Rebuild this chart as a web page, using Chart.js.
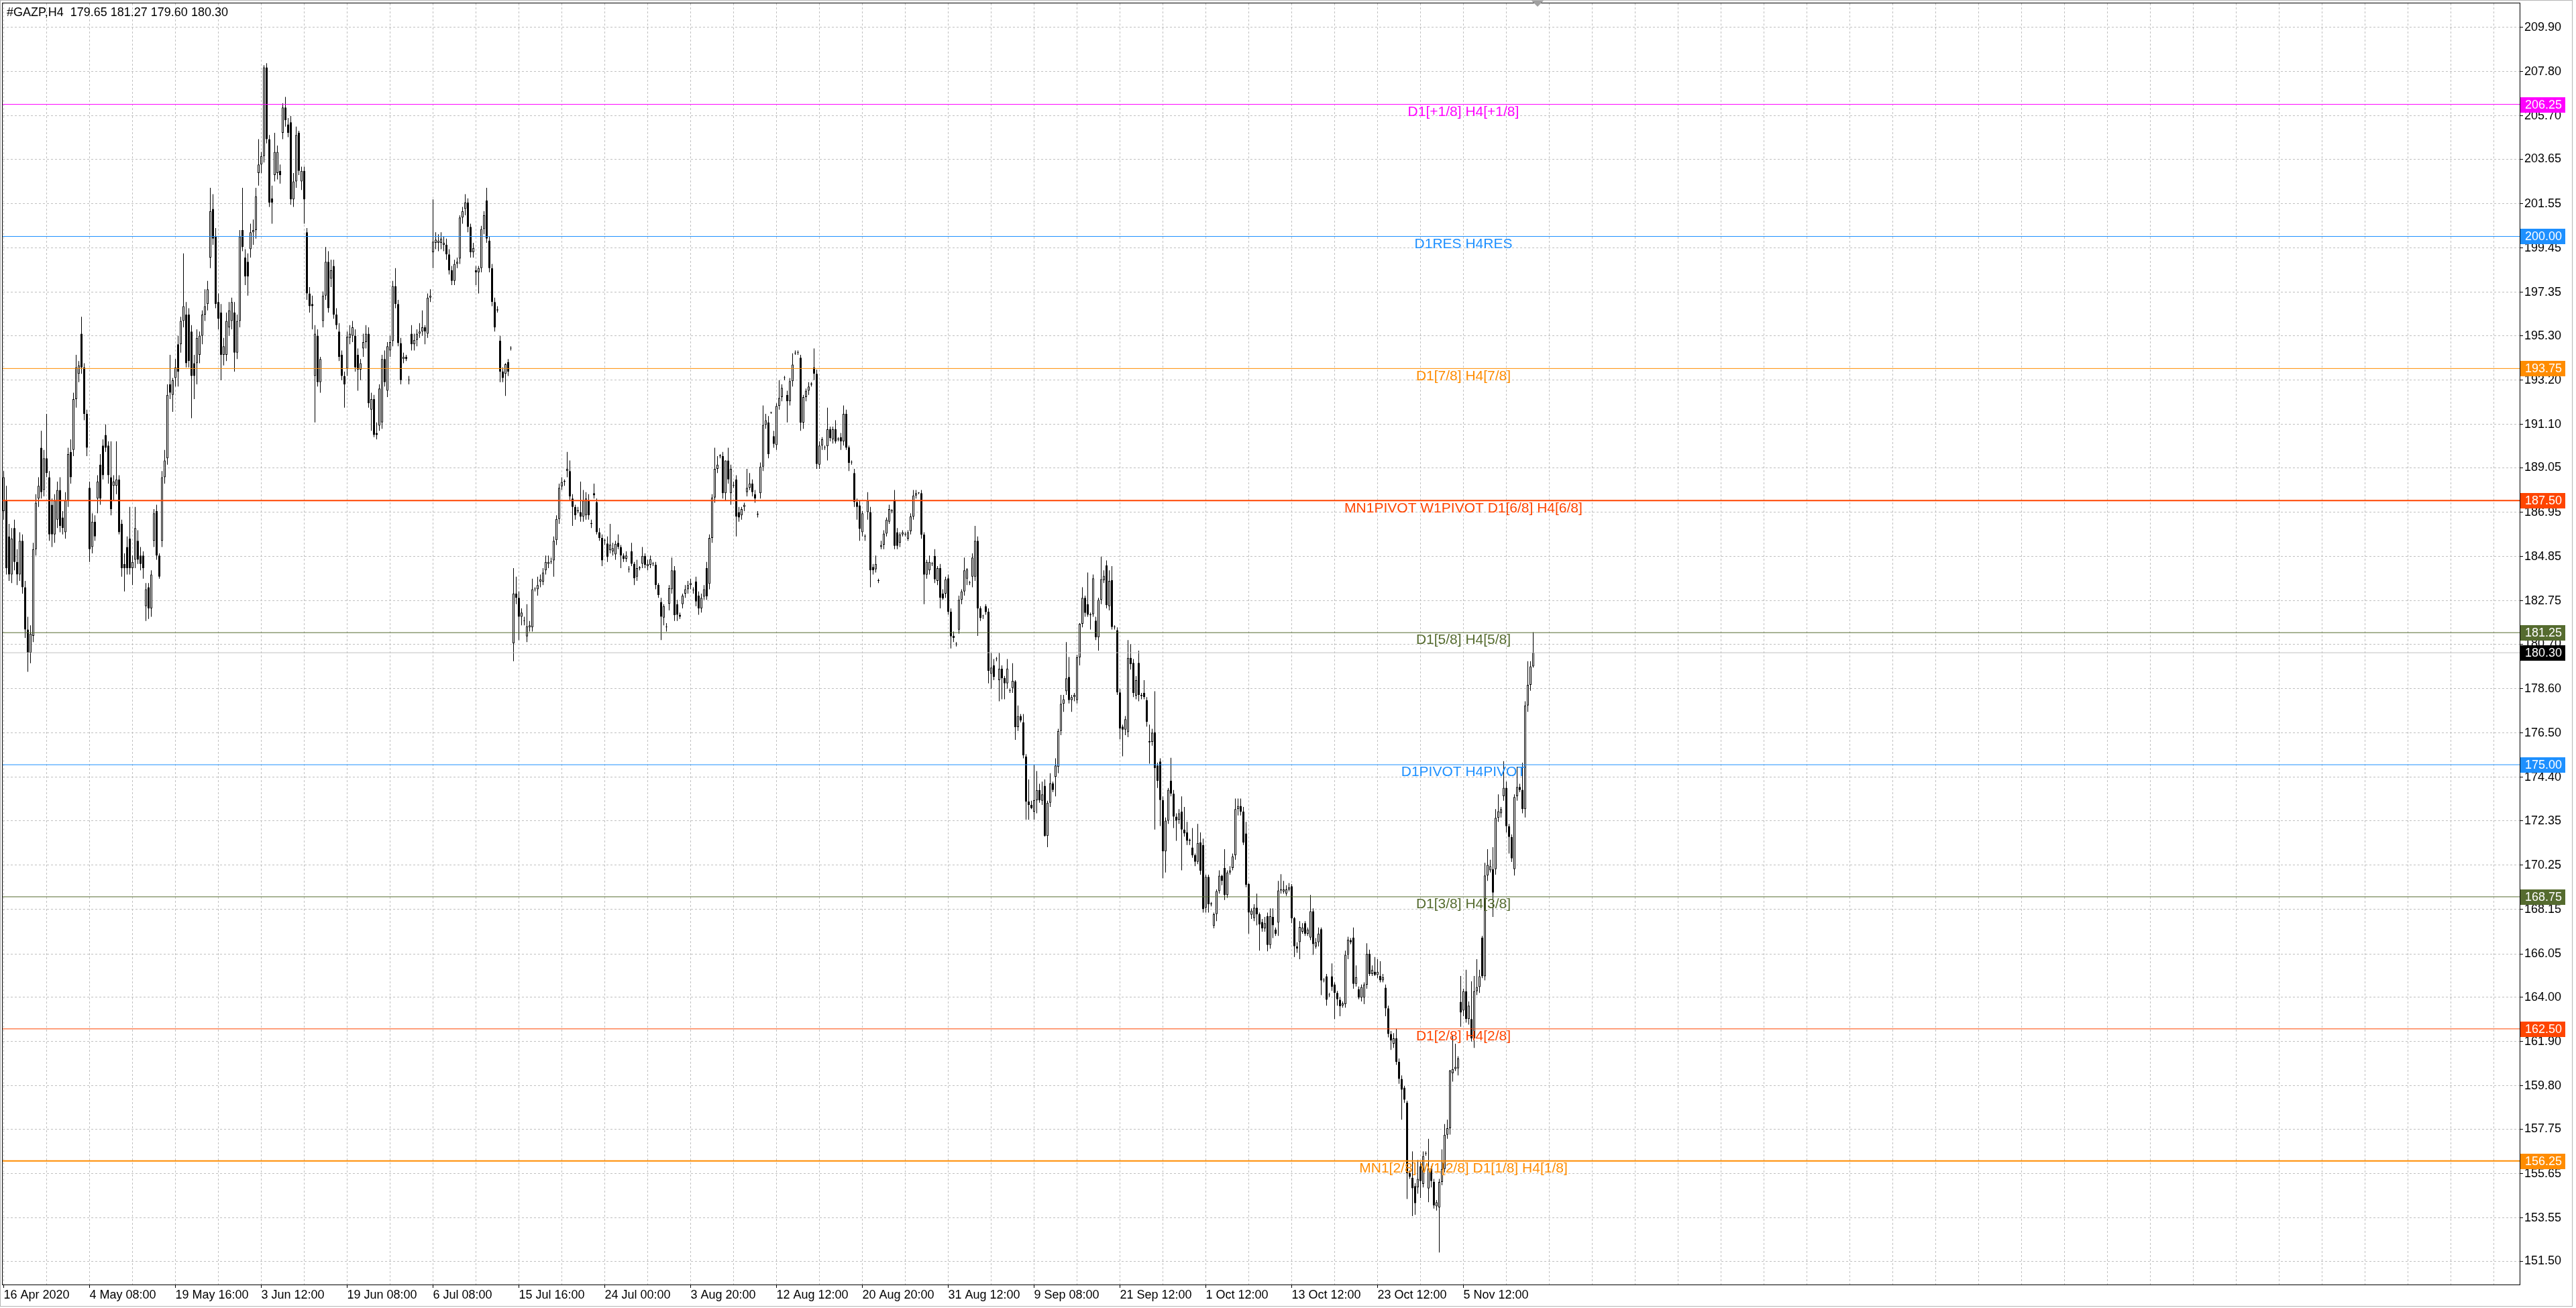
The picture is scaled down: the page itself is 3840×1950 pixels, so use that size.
<!DOCTYPE html>
<html>
<head>
<meta charset="utf-8">
<script src="https://cdn.jsdelivr.net/npm/chart.js@4.4.1/dist/chart.umd.min.js"></script>
<style>
html,body{margin:0;padding:0;background:#ffffff;overflow:hidden;}
canvas{display:block;}
</style>
</head>
<body>
<canvas id="c" width="3840" height="1950" style="width:3840px;height:1950px"></canvas>
<script>
// ---------------- DATA ----------------
const symbolName = '#GAZP';
const timeframe = 'H4';

const timeLabels = ['16 Apr 2020','4 May 08:00','19 May 16:00','3 Jun 12:00','19 Jun 08:00','6 Jul 08:00',
  '15 Jul 16:00','24 Jul 00:00','3 Aug 20:00','12 Aug 12:00','20 Aug 20:00','31 Aug 12:00','9 Sep 08:00',
  '21 Sep 12:00','1 Oct 12:00','13 Oct 12:00','23 Oct 12:00','5 Nov 12:00'];

const yTickValues = [151.50,153.55,155.65,157.75,159.80,161.90,164.00,166.05,168.15,170.25,172.35,174.40,
  176.50,178.60,180.70,182.75,184.85,186.95,189.05,191.10,193.20,195.30,197.35,199.45,201.55,203.65,205.70,207.80,209.90];

const levelValues = [206.25, 200.00, 193.75, 187.50, 181.25, 175.00, 168.75, 162.50, 156.25];
const levelNames = ['D1[+1/8] H4[+1/8]','D1RES H4RES','D1[7/8] H4[7/8]','MN1PIVOT W1PIVOT D1[6/8] H4[6/8]',
  'D1[5/8] H4[5/8]','D1PIVOT H4PIVOT','D1[3/8] H4[3/8]','D1[2/8] H4[2/8]','MN1[2/8] W1[2/8] D1[1/8] H4[1/8]'];

const opens = [
187.0,187.5,185.8,184.0,186.2,184.6,184.0,185.6,183.4,181.4,
180.3,181.1,185.2,187.6,190.0,188.0,189.5,188.6,187.3,185.9,
186.6,188.0,186.7,186.0,187.5,189.8,189.9,192.3,193.5,195.4,
193.8,191.6,188.1,185.3,186.5,187.6,189.2,190.1,190.6,190.1,
188.6,188.2,188.2,188.5,186.4,184.5,185.3,185.7,184.3,184.7,
185.6,184.9,184.9,182.5,183.4,182.4,185.6,187.0,184.9,185.6,
188.6,189.5,193.0,192.5,193.3,194.9,194.9,196.0,196.3,196.3,
195.5,194.0,194.0,194.4,195.3,196.3,196.8,199.0,201.3,200.0,
196.9,196.4,194.4,194.4,195.7,196.0,196.4,194.5,196.0,200.3,
199.0,198.8,199.4,200.2,200.3,203.0,203.4,203.8,208.0,204.6,
201.8,202.9,203.0,203.1,204.9,206.1,205.3,205.4,201.75,202.6,
204.9,202.6,203.1,200.2,197.3,196.8,193.4,195.3,193.1,196.0,
197.2,198.8,198.0,198.6,196.3,195.5,194.4,193.4,193.75,195.2,
195.3,195.3,194.4,193.7,194.7,195.0,195.4,191.8,192.3,190.7,
191.05,191.2,194.2,192.7,194.6,195.05,197.65,196.8,194.95,194.2,
194.3,193.2,195.4,194.9,195.1,195.4,195.5,195.7,195.4,197.1,
199.25,199.7,199.7,199.7,199.6,199.6,199.15,198.4,197.9,198.7,
198.95,200.9,201.3,201.6,200.45,199.25,198.4,198.3,198.5,200.35,
201.7,199.8,198.5,196.9,196.5,195.06,193.6,193.5,194.05,194.7,
180.75,183.1,182.9,182.0,181.8,181.07,181.5,181.5,183.3,183.3,
183.66,183.67,184.2,184.5,184.6,184.67,185.63,186.63,188.17,188.4,
188.9,188.9,187.6,187.2,187.0,186.95,186.74,186.8,187.5,186.4,
187.85,187.43,186.0,185.73,185.6,185.47,185.15,185.1,184.95,185.5,
185.3,184.9,184.75,184.25,185.1,184.51,183.9,184.3,184.51,184.88,
184.4,184.46,184.5,184.46,183.51,182.7,181.96,181.5,182.61,183.3,
184.2,182.6,182.1,182.6,183.1,183.3,183.5,183.25,183.67,183.0,
182.4,182.95,184.3,183.56,185.73,187.64,189.0,189.6,189.6,187.85,
189.4,187.85,188.2,188.5,186.95,186.8,187.2,187.9,188.1,188.3,
187.8,186.84,187.85,189.1,191.08,191.2,191.66,190.55,190.13,191.98,
192.4,193.3,192.5,192.2,193.15,194.47,194.5,194.26,191.19,192.4,
192.7,193.0,193.8,193.5,189.2,190.1,190.0,190.07,190.87,190.4,
190.87,190.4,190.5,190.3,191.6,190.02,189.3,188.8,187.43,187.27,
186.0,185.8,186.95,186.95,184.36,184.25,183.7,185.3,185.41,185.94,
186.5,187.0,187.53,186.0,185.5,185.9,185.9,185.7,186.05,186.74,
187.74,187.85,187.85,185.89,183.99,184.2,184.5,184.88,183.7,184.3,
183.1,183.1,183.82,182.24,181.1,180.7,181.39,182.8,183.2,183.8,
183.6,183.9,183.9,185.6,182.4,182.03,182.49,182.24,179.3,179.7,
180.0,179.0,179.54,179.1,178.85,178.5,178.63,178.94,176.78,177.3,
177.0,175.39,173.26,173.1,172.78,173.32,173.8,173.3,174.0,171.63,
173.2,174.11,174.42,174.9,176.6,177.88,178.48,179.15,178.06,178.2,
178.06,180.08,181.67,182.9,182.6,182.1,182.12,181.82,181.03,182.8,
183.73,184.43,182.5,183.73,181.5,181.37,178.42,176.8,176.66,176.54,
180.06,179.82,178.27,179.82,178.25,178.4,178.06,176.06,176.08,176.54,
174.96,175.15,173.33,170.9,172.35,174.24,173.63,172.54,172.4,172.78,
171.93,171.8,171.4,171.08,170.72,170.41,171.32,171.2,168.23,169.69,
168.4,167.38,167.93,169.02,169.75,170.11,168.84,169.9,170.11,170.72,
172.9,173.05,172.78,171.75,169.36,167.9,167.74,168.23,167.92,167.56,
167.26,167.83,166.47,167.8,167.2,167.53,169.05,169.0,168.9,169.1,
169.25,167.73,166.4,166.61,167.1,167.5,167.0,166.82,168.07,166.4,
166.6,167.22,164.8,164.99,164.1,164.99,164.6,164.2,163.88,163.6,
163.67,166.0,166.7,166.82,164.63,164.38,163.98,163.98,164.59,166.05,
165.1,165.2,165.05,165.0,164.8,164.45,163.47,162.26,161.8,162.05,
160.94,160.13,159.72,159.01,155.67,155.46,155.06,155.0,156.0,155.16,
156.6,154.95,155.9,155.26,154.1,154.05,155.26,155.87,157.49,157.8,
160.4,160.6,160.63,163.78,163.37,164.28,162.96,162.96,162.05,164.28,
164.48,166.82,164.99,169.76,170.0,170.06,170.06,172.49,172.7,173.51,
173.91,172.09,171.58,170.06,173.51,173.95,173.81,172.9,177.8,178.78,
179.65];

const highs = [
188.9,188.2,186.4,186.2,186.6,185.2,186.0,185.9,183.7,182.0,
181.6,185.5,187.8,188.6,190.8,189.9,191.6,188.9,187.6,187.8,
188.4,188.6,187.0,187.9,190.0,190.4,192.6,194.4,194.1,196.2,
194.0,191.8,188.4,186.9,186.8,188.7,189.7,190.4,191.1,190.3,
190.3,188.7,190.3,188.7,186.6,185.0,185.8,187.2,184.9,187.2,
186.1,185.3,185.1,183.6,183.6,184.2,187.1,187.3,185.0,188.9,
189.9,193.0,194.4,193.3,194.2,195.3,196.2,199.2,196.9,196.6,
195.8,194.4,195.6,195.5,196.5,197.5,197.9,202.3,202.0,200.4,
197.3,196.8,195.2,196.4,196.9,197.1,196.9,196.3,200.3,202.3,
199.4,199.2,200.6,200.8,202.3,204.6,204.0,208.1,208.2,204.8,
202.4,204.9,204.3,203.4,206.3,206.6,205.6,205.7,203.0,205.2,
205.0,203.3,203.3,200.4,197.6,197.2,195.8,195.6,194.3,197.4,
199.5,199.3,198.9,198.9,196.6,195.9,194.6,193.6,195.5,195.8,
196.0,195.6,194.7,194.2,195.4,195.8,195.7,192.6,192.5,191.2,
193.0,194.4,194.6,195.0,195.3,197.9,198.5,197.0,195.2,194.5,
194.4,193.4,195.8,195.4,195.6,195.9,196.5,195.8,197.3,197.5,
201.75,200.2,200.1,200.2,200.0,199.9,199.4,198.6,198.9,199.0,
201.0,201.4,202.0,201.8,200.6,199.7,198.6,198.6,200.5,201.2,
202.3,200.0,198.7,197.1,196.7,195.3,193.8,194.0,194.2,194.8,
184.3,183.9,183.2,182.4,182.0,182.6,181.8,183.8,183.4,183.9,
184.0,184.3,184.9,184.9,184.8,185.8,186.8,188.3,188.6,188.5,
189.8,189.4,187.8,187.3,187.2,188.4,188.0,187.9,187.8,186.6,
188.3,187.6,186.2,185.9,185.7,185.8,186.4,185.5,185.6,185.9,
185.4,185.0,185.1,184.4,185.5,184.6,184.7,184.4,185.3,185.0,
184.7,184.9,184.6,184.6,183.6,182.9,182.6,181.7,183.5,184.8,
184.4,182.8,182.2,183.1,183.5,183.7,183.8,183.4,183.9,183.2,
183.1,183.5,184.6,185.9,187.8,190.0,189.6,189.7,189.8,189.4,
190.0,189.2,188.4,188.7,187.2,187.2,187.4,189.0,188.8,188.5,
188.0,187.0,189.3,192.0,191.6,191.5,191.7,190.8,192.1,193.2,
193.0,193.4,192.7,193.3,194.47,194.6,194.6,194.4,192.5,192.8,
193.1,193.1,194.7,193.7,190.3,190.5,190.1,191.9,191.0,191.0,
191.3,190.5,190.7,192.0,191.8,190.1,189.4,189.0,187.6,187.5,
187.0,185.9,187.9,187.2,184.5,184.9,183.8,185.6,186.1,186.7,
187.3,187.1,188.0,186.2,186.0,186.1,186.0,186.1,186.9,188.0,
188.0,187.9,188.0,186.0,184.7,184.9,184.6,185.2,184.4,184.5,
183.3,183.9,184.0,182.4,181.3,180.8,183.0,183.3,184.8,184.3,
183.7,185.0,186.3,185.8,182.5,182.1,182.6,182.4,180.3,180.0,
180.1,180.3,179.7,179.2,180.0,178.6,179.8,179.0,177.8,177.4,
177.4,175.5,174.3,173.3,175.0,174.7,174.1,174.2,174.3,173.3,
174.6,174.2,175.3,176.7,178.3,178.3,180.8,180.1,178.3,178.4,
180.2,181.7,183.4,183.0,184.1,182.2,184.0,182.0,182.9,184.85,
184.2,184.67,184.2,184.4,181.6,181.5,178.6,176.9,177.3,180.9,
180.7,180.0,179.2,180.4,178.4,179.0,178.2,176.9,176.7,178.48,
175.1,175.3,173.5,172.5,173.9,175.33,173.8,172.7,172.9,173.5,
173.0,172.3,171.5,172.0,170.8,172.2,171.8,171.5,169.8,169.8,
168.5,168.0,169.1,170.0,169.8,171.0,170.0,170.2,170.8,173.4,
173.4,173.4,173.0,172.3,169.4,168.2,168.4,168.9,168.0,167.7,
167.8,168.0,168.2,168.2,167.3,169.5,169.82,169.5,169.3,169.4,
169.35,167.8,166.6,167.6,167.5,167.6,167.3,168.84,168.2,166.8,
167.3,167.3,164.9,165.1,164.2,165.6,164.7,164.3,164.0,163.8,
166.2,166.86,166.8,167.3,165.5,164.5,164.6,164.7,166.55,166.25,
165.5,165.9,165.8,165.7,165.1,164.6,163.6,162.4,162.3,162.5,
161.1,160.3,159.8,159.1,155.8,156.7,155.2,156.3,156.2,156.7,
156.7,157.3,156.0,155.4,154.4,155.4,156.8,158.0,158.2,160.55,
162.2,161.8,161.2,165.0,164.4,165.3,163.8,164.75,165.0,165.8,
165.3,166.9,170.36,171.0,170.5,171.1,172.9,173.6,173.0,175.17,
174.2,172.2,171.7,173.6,174.9,174.1,175.1,178.0,179.9,179.9,
181.27];

const lows = [
186.6,184.0,183.7,183.6,184.2,183.5,183.7,183.1,181.0,179.4,
179.8,180.8,184.9,187.2,187.6,187.7,188.6,185.6,185.3,185.5,
186.2,186.0,185.9,185.7,187.2,188.3,189.6,191.9,193.1,193.5,
191.3,189.6,184.6,185.0,185.6,186.9,187.3,188.5,189.8,188.3,
186.8,187.5,187.8,185.9,183.9,183.2,184.0,184.0,183.5,184.3,
184.5,184.2,183.8,181.8,181.9,182.0,185.3,184.7,183.8,185.3,
188.3,189.2,192.3,191.7,192.9,192.9,194.5,195.7,193.8,193.8,
191.4,192.3,193.0,194.0,194.9,196.0,196.5,198.5,199.6,196.6,
195.6,193.2,193.9,194.1,195.3,195.6,193.6,194.2,195.7,199.3,
197.7,197.2,199.0,199.6,199.9,202.4,203.0,203.5,204.4,201.4,
200.6,202.6,202.7,202.5,204.6,205.2,204.7,201.5,201.4,202.3,
202.9,202.2,200.6,197.0,196.4,195.6,191.2,192.9,192.6,195.7,
197.0,196.4,197.6,196.1,195.6,194.1,193.2,191.9,193.4,194.9,
195.0,193.6,192.7,193.2,194.3,194.7,191.9,190.8,190.5,190.4,
190.8,190.9,192.9,192.4,194.3,194.8,196.6,194.8,193.0,194.0,
194.1,193.0,194.6,194.6,194.8,195.2,195.3,194.9,195.2,196.9,
198.5,199.4,199.3,199.4,199.3,198.9,198.2,197.7,197.7,198.5,
198.7,200.6,201.0,200.2,199.0,199.0,197.7,197.3,198.3,200.1,
199.7,198.3,196.7,195.5,196.4,193.1,193.1,192.45,193.4,194.6,
179.9,182.6,180.9,181.6,181.6,180.8,181.3,181.3,183.2,183.0,
183.4,183.5,184.0,184.3,184.5,183.9,185.4,186.4,188.0,188.2,
188.6,187.5,186.3,186.6,186.9,186.5,186.5,186.6,186.6,186.2,
187.6,185.9,185.6,184.4,185.4,184.6,185.0,184.9,184.7,185.2,
184.3,184.6,184.6,184.1,184.4,183.5,183.7,184.2,184.3,184.3,
184.2,184.3,184.4,183.3,182.9,180.9,181.6,181.3,182.3,183.1,
181.8,181.8,181.9,182.4,182.9,183.1,183.3,183.1,182.5,182.1,
182.2,182.8,182.8,183.3,185.5,187.4,188.8,189.5,187.6,187.5,
188.3,187.3,188.1,185.8,186.5,186.6,187.0,187.7,188.0,187.7,
187.4,186.7,187.6,188.9,190.9,189.5,191.6,190.0,189.9,191.8,
192.2,193.2,191.2,192.0,192.9,194.4,194.4,190.8,190.9,192.2,
192.5,192.9,193.2,189.0,189.0,189.9,189.9,189.4,190.3,190.2,
190.2,190.3,189.9,190.1,189.9,188.9,189.2,187.2,186.6,185.6,
185.8,185.6,186.6,183.4,184.0,184.1,183.6,185.2,185.2,185.8,
186.4,186.9,185.2,185.2,185.3,185.8,185.8,185.6,185.9,186.6,
187.6,187.8,185.7,182.6,183.8,184.0,184.4,183.6,183.5,182.4,
182.8,182.9,182.1,180.5,180.8,180.6,181.2,182.6,183.0,183.5,
183.5,183.4,183.7,181.1,181.8,181.9,182.1,178.85,178.6,179.0,
179.9,178.0,178.1,178.1,178.6,178.4,178.4,176.18,176.6,177.0,
175.3,172.4,172.4,172.9,172.4,172.7,173.2,173.1,171.6,171.1,
173.0,173.7,173.5,174.6,176.4,177.5,178.3,177.9,177.5,178.0,
177.9,179.7,181.5,182.0,182.0,181.4,182.0,180.9,180.4,182.6,
183.6,182.4,182.3,181.4,181.4,178.3,176.2,175.4,176.4,176.3,
179.5,178.2,178.1,178.0,178.1,178.1,176.8,175.05,175.9,171.93,
173.9,172.1,169.63,169.9,172.2,173.5,172.0,171.4,172.2,170.0,
171.6,171.2,171.2,170.6,170.2,170.3,169.8,168.0,168.0,168.0,
168.3,167.26,167.6,168.9,169.3,168.6,168.7,169.8,170.0,170.5,
172.6,172.6,171.2,169.2,167.0,167.7,167.6,167.4,166.2,167.1,
167.1,166.17,166.3,166.8,166.9,166.9,168.9,168.9,168.8,169.0,
167.5,165.9,166.1,165.8,167.0,166.9,166.9,166.7,166.0,166.3,
166.4,164.1,164.7,163.6,164.0,164.3,162.96,163.6,163.1,163.5,
163.5,165.8,166.5,164.4,164.5,163.9,163.8,163.67,164.4,165.0,
165.0,165.0,164.9,164.7,164.7,163.1,162.1,161.5,161.6,160.8,
159.9,158.2,159.0,154.45,155.4,153.64,153.7,154.7,154.5,155.0,
156.5,154.3,155.0,154.0,153.9,151.92,155.1,155.7,157.3,157.5,
160.0,160.5,160.3,162.6,163.1,162.8,162.7,161.9,161.6,164.1,
164.2,164.9,164.8,169.5,169.9,167.8,169.8,172.3,172.5,173.3,
171.8,170.8,170.4,169.76,173.3,173.7,172.7,172.5,177.5,178.5,
179.60];

const closes = [
188.6,184.3,184.0,185.7,184.6,184.0,185.6,183.4,181.4,180.3,
181.2,185.2,187.4,188.2,187.9,189.5,188.8,185.9,185.9,187.5,
188.0,186.3,186.2,187.5,189.7,188.6,192.3,193.8,193.9,193.8,
191.6,190.0,185.2,186.5,185.8,188.4,187.6,188.7,190.0,188.7,
187.1,188.4,188.5,186.0,184.3,184.3,184.3,184.3,184.6,186.2,
184.7,184.5,184.3,183.3,182.4,184.0,186.9,184.9,183.9,188.6,
189.4,192.5,192.6,193.2,193.8,193.6,196.0,196.7,194.0,194.1,
193.4,193.4,195.2,195.3,196.3,196.7,197.5,201.2,199.9,196.8,
196.1,194.4,194.8,196.0,196.5,196.9,194.5,196.0,200.0,199.5,
198.1,198.1,200.2,200.3,201.9,203.4,203.8,208.0,204.6,201.6,
201.6,204.0,204.0,202.9,206.1,205.5,204.9,201.75,202.6,204.8,
203.1,203.1,201.75,197.3,196.7,196.7,195.4,193.1,194.2,197.2,
198.8,196.6,198.4,196.3,195.8,194.3,193.4,193.0,195.25,195.4,
195.7,193.8,193.7,194.0,195.0,195.4,192.1,192.3,190.6,190.6,
192.8,194.2,193.1,194.8,195.0,197.65,196.8,194.95,193.2,194.3,
194.2,193.2,194.9,195.1,195.4,195.5,195.7,195.5,197.1,197.2,
199.75,199.85,199.8,199.9,199.7,199.15,198.4,197.9,198.7,198.8,
200.9,201.2,201.6,200.45,199.25,199.45,198.3,198.5,200.35,201.0,
199.9,198.5,196.9,195.7,196.55,193.6,193.3,193.95,193.6,194.7,
183.1,182.9,182.0,182.2,181.8,181.55,181.6,183.3,183.3,183.5,
183.77,184.1,184.6,184.6,184.6,185.6,186.63,188.1,188.38,188.4,
189.0,187.7,187.2,186.8,187.0,186.74,187.5,187.6,186.8,186.4,
187.75,186.0,185.73,184.67,185.6,184.83,185.41,185.25,185.45,185.3,
184.9,184.75,184.9,184.25,184.51,183.83,184.3,184.3,184.88,184.46,
184.5,184.72,184.5,183.51,183.03,182.0,182.5,181.5,183.35,184.2,
182.08,182.1,182.0,183.0,183.3,183.5,183.6,183.25,182.72,182.4,
182.9,183.3,182.97,185.73,187.64,189.0,189.2,189.6,187.85,189.4,
188.5,189.0,188.2,186.74,186.7,187.1,187.3,188.1,188.3,187.9,
187.6,186.84,189.1,191.08,191.3,189.7,191.66,190.18,191.98,192.36,
192.83,193.3,192.2,193.15,193.94,194.47,194.5,191.19,192.4,192.7,
192.9,193.0,193.5,189.23,190.1,190.4,190.0,190.87,190.45,190.87,
190.3,190.4,190.3,191.6,190.0,189.28,189.3,187.43,187.2,186.16,
186.9,185.8,187.5,184.2,184.2,184.5,183.7,185.4,185.94,186.6,
187.1,187.0,185.36,185.36,185.9,186.0,185.9,186.0,186.75,187.74,
187.85,187.85,185.89,183.99,184.6,184.6,184.5,183.77,184.3,182.9,
182.87,183.77,182.24,181.07,181.0,180.7,182.8,183.2,184.2,184.25,
183.6,184.8,185.6,182.4,181.94,182.03,182.22,179.45,179.6,179.15,
180.0,179.54,179.09,178.85,179.55,178.5,178.97,176.78,177.3,177.1,
175.45,173.26,173.1,172.95,173.32,173.8,173.32,173.6,171.63,173.2,
174.11,173.8,174.96,176.6,177.88,178.1,179.09,178.06,178.2,178.3,
180.08,181.67,182.9,182.18,182.1,182.08,183.82,181.03,182.8,183.78,
183.94,182.55,183.7,181.52,181.5,178.42,176.72,176.66,177.15,180.06,
179.76,178.39,179.0,178.3,178.3,178.2,177.03,176.12,176.52,174.84,
174.24,173.33,170.9,172.35,173.81,173.63,172.54,172.35,172.7,171.93,
171.75,171.4,171.45,170.72,170.41,171.3,169.99,168.17,169.69,168.4,
168.4,167.92,169.02,169.75,169.5,168.84,169.9,170.0,170.66,172.9,
173.05,172.78,171.32,169.32,168.0,168.1,168.23,167.92,167.44,167.26,
167.5,166.47,167.83,167.4,167.0,169.05,169.1,169.1,169.1,169.2,
167.73,166.41,166.3,167.32,167.3,167.0,167.2,168.07,166.51,166.6,
167.0,164.79,164.8,163.88,164.1,164.49,164.2,163.9,163.57,163.7,
166.0,166.72,166.6,164.63,164.95,163.98,164.48,164.6,166.05,165.1,
165.3,165.05,165.2,164.8,164.95,163.47,162.26,161.95,162.05,160.94,
160.13,159.62,159.15,155.67,155.5,154.96,154.25,155.4,155.3,156.48,
156.6,155.9,155.3,154.15,154.3,155.26,155.87,157.49,157.8,160.53,
160.6,160.7,161.1,163.27,164.28,162.96,163.6,162.05,164.28,164.48,
164.99,164.99,169.76,170.26,170.2,168.95,172.49,172.8,172.9,173.91,
172.09,171.58,170.57,173.47,173.95,173.8,172.9,177.8,178.78,179.65,
180.30];

// ---------------- STYLE / LAYOUT ----------------
const levelColors = ['#FF00FF','#1E90FF','#FF8C00','#FF4500','#556B2F','#1E90FF','#556B2F','#FF4500','#FF8C00'];
const levelWidths = [1,1,1,2,1,1,1,1,2];
const FONT = '"Liberation Sans", Arial, sans-serif';
const SLOTS = 938;
const X_MIN = -0.375, X_MAX = X_MIN + SLOTS;
const Y_MIN = 150.37, Y_MAX = 211.03;
const GRID_STEP = 16, LABEL_STEP = 32;
const LEVEL_LABEL_BAR = 544;

const N = Math.min(opens.length, highs.length, lows.length, closes.length);
const idx = Array.from({length: N}, (_, i) => i);
const bodyData = idx.map(i => ({x: i, y: [opens[i], closes[i]]}));
const wickData = idx.map(i => ({x: i, y: [lows[i], highs[i]]}));
const lastClose = closes[N - 1];
const fmt = v => Number(v).toFixed(2);

const levelDatasets = levelValues.map((v, k) => ({
  type: 'line', data: [{x: X_MIN, y: v}, {x: X_MAX, y: v}],
  borderColor: levelColors[k], borderWidth: levelWidths[k], pointRadius: 0, fill: false, tension: 0
}));
const priceLineDataset = {
  type: 'line', data: [{x: X_MIN, y: lastClose}, {x: X_MAX, y: lastClose}],
  borderColor: '#C0C0C0', borderWidth: 1, pointRadius: 0, fill: false
};

const overlayPlugin = {
  id: 'overlay',
  afterDatasetsDraw(chart) {
    const {ctx} = chart; const xs = chart.scales.x, ys = chart.scales.y;
    ctx.save();
    ctx.font = '21px ' + FONT;
    ctx.textAlign = 'center';
    ctx.textBaseline = 'top';
    const lx = xs.getPixelForValue(LEVEL_LABEL_BAR);
    levelValues.forEach((v, k) => {
      ctx.fillStyle = levelColors[k];
      ctx.fillText(levelNames[k], lx, ys.getPixelForValue(v) + 1);
    });
    ctx.restore();
  },
  afterDraw(chart) {
    const {ctx, chartArea: a} = chart; const xs = chart.scales.x, ys = chart.scales.y;
    ctx.save();
    // plot frame
    ctx.strokeStyle = '#000'; ctx.lineWidth = 1;
    ctx.strokeRect(a.left - 0.5, a.top - 0.5, a.right - a.left + 1, a.bottom - a.top);
    // window border
    ctx.strokeStyle = '#B4B4B4';
    ctx.strokeRect(0.5, 0.5, 3834, 1947);
    // header
    ctx.fillStyle = '#000'; ctx.font = '18px ' + FONT; ctx.textAlign = 'left'; ctx.textBaseline = 'top';
    ctx.fillText(symbolName + ',' + timeframe + '  ' + fmt(opens[N-1]) + ' ' + fmt(highs[N-1]) + ' ' + fmt(lows[N-1]) + ' ' + fmt(closes[N-1]), 10, 10);
    // shift marker
    const sx = Math.round(xs.getPixelForValue(N + 0.5));
    ctx.fillStyle = '#A0A0A0';
    ctx.beginPath(); ctx.moveTo(sx - 9, 1); ctx.lineTo(sx + 9, 1); ctx.lineTo(sx, 10); ctx.closePath(); ctx.fill();
    // price tags
    const tag = (v, color) => {
      const py = Math.round(ys.getPixelForValue(v));
      ctx.fillStyle = color;
      ctx.fillRect(a.right + 1, py - 11, 67, 23);
      ctx.fillStyle = '#FFFFFF'; ctx.font = '18px ' + FONT; ctx.textBaseline = 'middle'; ctx.textAlign = 'left';
      ctx.fillText(fmt(v), a.right + 8, py + 1);
    };
    levelValues.forEach((v, k) => tag(v, levelColors[k]));
    tag(lastClose, '#000000');
    ctx.restore();
  }
};

new Chart(document.getElementById('c'), {
  type: 'bar',
  data: {
    datasets: [
      ...levelDatasets,
      priceLineDataset,
      {
        label: 'body', data: bodyData, grouped: false, barThickness: 3, minBarLength: 1,
        inflateAmount: 0, borderSkipped: false, borderWidth: 1, borderColor: '#000000',
        backgroundColor: c => (closes[c.dataIndex] >= opens[c.dataIndex] ? '#FFFFFF' : '#000000')
      },
      {
        label: 'wick', data: wickData, grouped: false, barThickness: 1, minBarLength: 1,
        inflateAmount: 0, borderSkipped: false, borderWidth: 0, backgroundColor: '#000000'
      }
    ]
  },
  options: {
    responsive: false, animation: false, devicePixelRatio: 1, events: [],
    layout: {padding: {left: 4, top: 5, right: 0, bottom: 0}},
    plugins: {legend: {display: false}, tooltip: {enabled: false}},
    scales: {
      x: {
        type: 'linear', min: X_MIN, max: X_MAX, offset: false,
        afterBuildTicks: s => { const t = []; for (let v = 0; v <= X_MAX; v += GRID_STEP) t.push({value: v}); s.ticks = t; },
        afterFit: s => { s.height = 34; s.paddingLeft = 0; s.paddingRight = 0; },
        ticks: {
          autoSkip: false, maxRotation: 0, minRotation: 0, align: 'start', labelOffset: 0, padding: 0,
          color: '#000', font: {family: FONT, size: 18},
          callback: v => (v % LABEL_STEP === 0 && timeLabels[v / LABEL_STEP] !== undefined) ? timeLabels[v / LABEL_STEP] : ''
        },
        grid: {
          color: '#C0C0C0', lineWidth: 1, offset: false, drawTicks: true, tickLength: 4,
          tickColor: c => (c.tick && c.tick.value % LABEL_STEP === 0 && c.tick.value / LABEL_STEP < timeLabels.length) ? '#000' : 'rgba(0,0,0,0)'
        },
        border: {display: false, dash: [3, 3]}
      },
      y: {
        type: 'linear', position: 'right', min: Y_MIN, max: Y_MAX,
        afterBuildTicks: s => { s.ticks = yTickValues.map(v => ({value: v})); },
        afterFit: s => { s.width = 84; s.paddingTop = 0; s.paddingBottom = 0; },
        ticks: {autoSkip: false, padding: 2, color: '#000', font: {family: FONT, size: 18}, callback: v => fmt(v)},
        grid: {color: '#C0C0C0', lineWidth: 1, drawTicks: true, tickLength: 5, tickColor: '#000'},
        border: {display: false, dash: [3, 3]}
      }
    }
  },
  plugins: [overlayPlugin]
});
</script>
</body>
</html>
